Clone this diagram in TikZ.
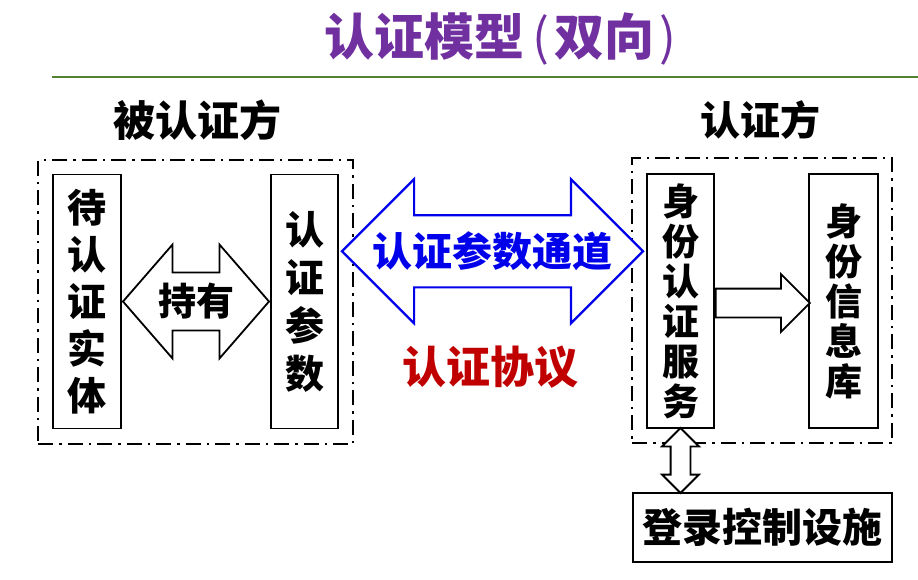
\documentclass[tikz,border=0pt]{standalone}
\usepackage{fontspec}
\setmainfont{Noto Sans CJK SC}
\usetikzlibrary{shapes.arrows, calc, positioning}
\definecolor{titlepurple}{RGB}{112,48,160}
\definecolor{rulegreen}{RGB}{84,130,53}
\definecolor{chanblue}{RGB}{0,0,235}
\definecolor{protored}{RGB}{192,0,0}
\tikzset{
  vbox/.style={draw, line width=1.8pt, inner sep=0pt, align=center, minimum height=254pt},
  group/.style={draw, line width=2.4pt, dash pattern=on 15pt off 6pt on 2.5pt off 6pt, inner sep=0pt},
  label/.style={font=\fontsize{40}{44}\selectfont\bfseries},
  blockarrow/.style={draw, line width=1.8pt, inner xsep=0pt, fill=white},
}
\begin{document}
\begin{tikzpicture}[x=1pt, y=-1pt]
\useasboundingbox (0,0) rectangle (918,579);
\node[font=\fontsize{50}{54}\selectfont\bfseries, text=titlepurple] (title) at (500,39) {认证模型\kern8pt{\mdseries(}\kern5pt双向\kern5pt{\mdseries)}};
\draw[rulegreen, line width=2.5pt] (52,77) -- (918,77);

\node[label, font=\fontsize{42}{44}\selectfont\bfseries] (prover) at (197,120) {被认证方};
\node[label] (verifier) at (760,120) {认证方};

\node[group, minimum width=315pt, minimum height=284pt] (left) at (195.5,302) {};
\node[group, minimum width=260pt, minimum height=285pt] (right) at (762,300.5) {};

\node[vbox, minimum width=68pt, font=\fontsize{39}{47}\selectfont\bfseries] (ent) at (87,301.5) {待\\认\\证\\实\\体};
\node[vbox, minimum width=67pt, font=\fontsize{39}{48}\selectfont\bfseries] (par) at (304.5,301.5) {认\\证\\参\\数};
\node[vbox, minimum width=67pt, font=\fontsize{37}{40}\selectfont\bfseries] (idsrv) at (680.5,301) {身\\份\\认\\证\\服\\务};
\node[vbox, minimum width=69pt, font=\fontsize{37}{40}\selectfont\bfseries] (iddb) at (843.5,301) {身\\份\\信\\息\\库};
\node[draw, line width=1.8pt, minimum width=259pt, minimum height=69pt, inner sep=0pt, font=\fontsize{40}{42}\selectfont\bfseries] (login) at (762.5,527.5) {登录控制设施};

\node[blockarrow, double arrow, inner ysep=10pt, minimum height=146pt, minimum width=113pt, double arrow head extend=28pt, double arrow tip angle=98, font=\fontsize{38}{40}\selectfont\bfseries] (hold) at ($(ent.east)!0.5!(par.west)$) {持有};
\node[blockarrow, double arrow, draw=chanblue, line width=2.2pt, inner ysep=35pt, minimum height=301pt, minimum width=142pt, double arrow head extend=36pt] (chan) at ($($(par.east)!0.5!(idsrv.west)$)+(0,-50)$) {};
\node[text=chanblue, font=\fontsize{40}{42}\selectfont\bfseries] (chantext) at (chan.center) {认证参数通道};
\node[text=protored, font=\fontsize{44}{46}\selectfont\bfseries] (proto) at (490,367) {认证协议};

\node[blockarrow, single arrow, anchor=tail, inner ysep=13.5pt, minimum height=94pt, minimum width=56pt, single arrow head extend=14.5pt] (store) at ($(idsrv.east)+(0,2)$) {};
\node[blockarrow, double arrow, rotate=90, inner ysep=9pt, minimum height=65pt, minimum width=35pt, double arrow head extend=8.5pt] (link) at ($(idsrv.south)!0.5!(idsrv.south |- login.north)$) {};
\end{tikzpicture}
\end{document}
